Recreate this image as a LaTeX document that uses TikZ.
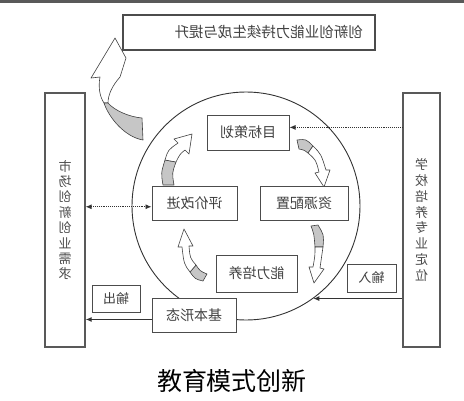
\documentclass[tikz,border=0pt]{standalone}
\usepackage{fontspec}
\setmainfont{Noto Sans CJK SC}
\usepackage{graphicx}
\usetikzlibrary{arrows.meta}

% the scan is mirrored, so the labels are too
\newcommand\flip[1]{\reflectbox{#1}}

\begin{document}
\begin{tikzpicture}[x=1pt,y=-1pt,>={Latex[length=6pt,width=5pt]},
    box/.style={draw=black!70,line width=1pt,fill=white,inner sep=0pt,text=black!75,font=\fontsize{14}{16}\selectfont},
    sidebox/.style={draw=black!65,line width=1.2pt,fill=white,inner sep=0pt,text=black!70,align=center,font=\fontsize{13}{15.4}\selectfont},
    dotline/.style={densely dotted,line width=0.9pt,draw=black!80},
    solidline/.style={line width=1.2pt,draw=black!80},
    tailpart/.style={draw=black!75,fill=gray!45,line width=0.6pt,line join=round},
    headpart/.style={draw=black!75,fill=white,line width=0.6pt,line join=round}]

    \useasboundingbox (0,0) rectangle (464,400);
    \fill[black!65] (0,0) rectangle (464,3);

    \node[draw=black!80,line width=0.9pt,circle,minimum size=228pt,inner sep=0pt] (circ) at (246,206) {};

    % big arrow up to the top box
    \filldraw[headpart] (100,77) .. controls (98,88) and (100,97) .. (104,103) -- (108,103) .. controls (108,95) and (112,86) .. (120,77) -- (126,58) -- (115,38) -- (91,78) -- cycle;
    \filldraw[tailpart] (104,103) .. controls (109,118) and (125,137) .. (143,140) -- (142,118) .. controls (130,117) and (115,111) .. (108,103) -- cycle;

    % cycle arrows inside the circle
    \filldraw[tailpart] (163,185) .. controls (161,173) .. (165,160) -- (176,162) .. controls (172,173) .. (174,185) -- cycle;
    \filldraw[headpart] (165,160) .. controls (168,150) .. (178,143) -- (174,139) -- (192,134) -- (189,154) -- (185,150) .. controls (180,154) .. (176,162) -- cycle;
    \filldraw[tailpart] (297,140) .. controls (306,139) .. (313,146) -- (308,153) .. controls (304,150) .. (299,149) -- cycle;
    \filldraw[headpart] (313,146) .. controls (321,154) .. (326,170) -- (330,170) -- (324,187) -- (315,173) -- (319,172) .. controls (316,160) .. (308,153) -- cycle;
    \filldraw[tailpart] (318,225) .. controls (324,235) .. (323,247) -- (315,247) .. controls (314,234) .. (311,226) -- cycle;
    \filldraw[headpart] (323,247) .. controls (322,258) .. (320,268) -- (324,269) -- (314,283) -- (309,267) -- (313,267) .. controls (315,256) .. (315,247) -- cycle;
    \filldraw[tailpart] (203,281) .. controls (195,279) .. (190,272) -- (196,265) .. controls (200,271) .. (207,274) -- cycle;
    \filldraw[headpart] (190,272) .. controls (184,264) .. (182,247) -- (178,247) -- (184,229) -- (193,246) -- (189,246) .. controls (190,258) .. (196,265) -- cycle;

    \node[box,line width=1.4pt,minimum width=252pt,minimum height=35pt,text width=228pt,inner xsep=12pt,align=right,font=\fontsize{14.5}{16}\selectfont] (top) at (249,32.5) {\flip{创新创业能力持续生成与提升}};
    \node[sidebox,minimum width=40pt,minimum height=254pt] (market) at (65,220) {\flip{市}\\\flip{场}\\\flip{创}\\\flip{新}\\\flip{创}\\\flip{业}\\\flip{需}\\\flip{求}};
    \node[sidebox,minimum width=37pt,minimum height=254pt,font=\fontsize{13}{15.8}\selectfont] (school) at (421.5,220) {\flip{学}\\\flip{校}\\\flip{培}\\\flip{养}\\\flip{专}\\\flip{业}\\\flip{定}\\\flip{位}};

    \node[box,minimum width=82pt,minimum height=35pt] (goal) at (248,132.5) {\flip{目标策划}};
    \node[box,minimum width=88pt,minimum height=34pt] (resource) at (304,203) {\flip{资源配置}};
    \node[box,minimum width=85pt,minimum height=34pt] (review) at (194.5,203) {\flip{评价改进}};
    \node[box,minimum width=81pt,minimum height=37pt] (ability) at (256.5,273.5) {\flip{能力培养}};
    \node[box,minimum width=84pt,minimum height=34pt] (form) at (194,315) {\flip{基本形态}};
    \node[box,minimum width=48pt,minimum height=27pt,font=\fontsize{13}{15}\selectfont] (outbox) at (116,298.5) {\flip{输出}};
    \node[box,minimum width=49pt,minimum height=28pt,font=\fontsize{13}{15}\selectfont] (inbox) at (371.5,278) {\flip{输入}};

    \draw[dotline,->] (goal.7 -| school.west) -- (goal.7);
    \draw[dotline,<->] (review.185 -| market.east) -- (review.185);
    \draw[solidline,->] (form.186) -- (form.186 -| market.east);
    \draw[solidline,->] (circ.-54 -| school.west) -- (circ.-54);

    \node[font=\fontsize{25}{28}\selectfont] (cap) at (232,381) {教育模式创新};
\end{tikzpicture}
\end{document}
